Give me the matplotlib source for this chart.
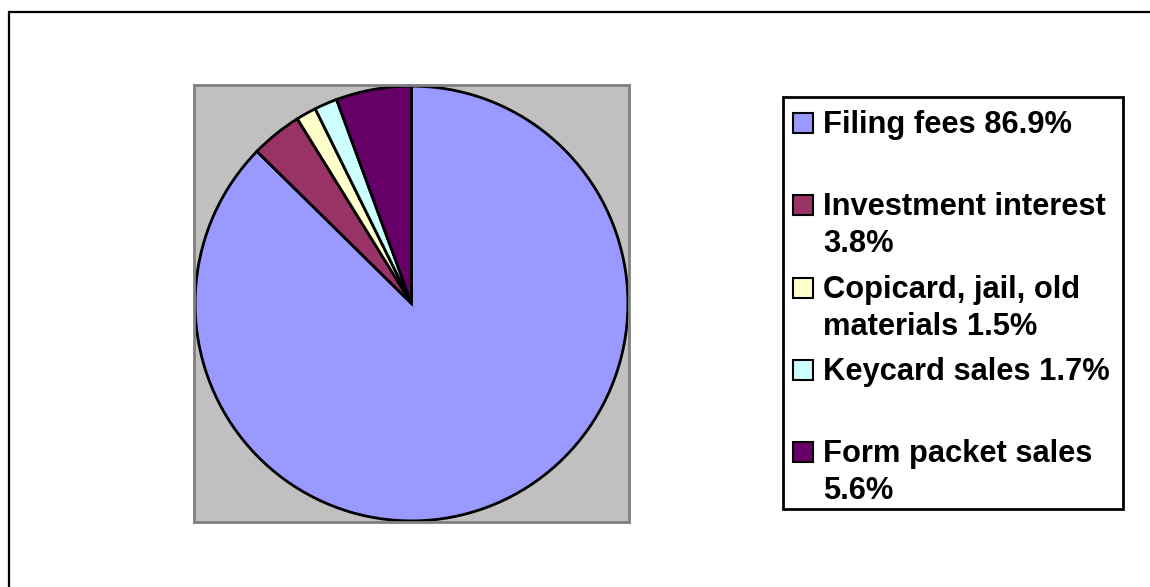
"""Pie chart of revenue sources, Excel style."""
import matplotlib
matplotlib.use("Agg")
import matplotlib.pyplot as plt
from matplotlib.patches import Rectangle

categories = ["Filing fees", "Investment interest", "Copicard, jail, old materials",
              "Keycard sales", "Form packet sales"]
shares = [86.9, 3.8, 1.5, 1.7, 5.6]
legend_labels = ["Filing fees 86.9%", "Investment interest\n3.8%",
                 "Copicard, jail, old\nmaterials 1.5%", "Keycard sales 1.7%",
                 "Form packet sales\n5.6%"]
colors = ["#9999FF", "#993366", "#FFFFCC", "#CCFFFF", "#660066"]

W, H = 1150, 587
plt.rcParams["font.family"] = ["Liberation Sans", "DejaVu Sans"]


def fx(x):
    return x / W


def fy(y):
    return 1 - y / H


fig = plt.figure(figsize=(W / 100, H / 100), dpi=100)

# outer chart border (runs off the right and bottom edges)
fig.patches.append(Rectangle((fx(9), -0.1), 1.2, fy(12) + 0.1, transform=fig.transFigure,
                             fill=False, edgecolor="black", linewidth=1.6))

# plot area
ax = fig.add_axes([fx(194), fy(522), (629 - 194) / W, (522 - 85) / H])
ax.pie(shares, colors=colors, startangle=90, counterclock=False, radius=0.995,
       wedgeprops=dict(edgecolor="black", linewidth=2))
ax.set_aspect("auto")
ax.set_xlim(-1, 1)
ax.set_ylim(-1, 1)
ax.set_frame_on(True)
ax.set_facecolor("#C0C0C0")
ax.set_xticks([])
ax.set_yticks([])
for s in ax.spines.values():
    s.set_edgecolor("#808080")
    s.set_linewidth(2)

# legend box
fig.patches.append(Rectangle((fx(783), fy(509)), (1123 - 783) / W, (509 - 97) / H,
                             transform=fig.transFigure, facecolor="white",
                             edgecolor="black", linewidth=2))
first_base, step, line_gap = 133, 82.3, 37
for i, (lab, col) in enumerate(zip(legend_labels, colors)):
    base = first_base + i * step
    fig.patches.append(Rectangle((fx(793), fy(base)), 20 / W, 20 / H,
                                 transform=fig.transFigure, facecolor=col,
                                 edgecolor="black", linewidth=1.5, zorder=3))
    for k, line in enumerate(lab.split("\n")):
        fig.text(fx(823), fy(base + k * line_gap), line, fontsize=22.2,
                 fontweight="bold", ha="left", va="baseline")

fig.savefig("out.png", dpi=100)
